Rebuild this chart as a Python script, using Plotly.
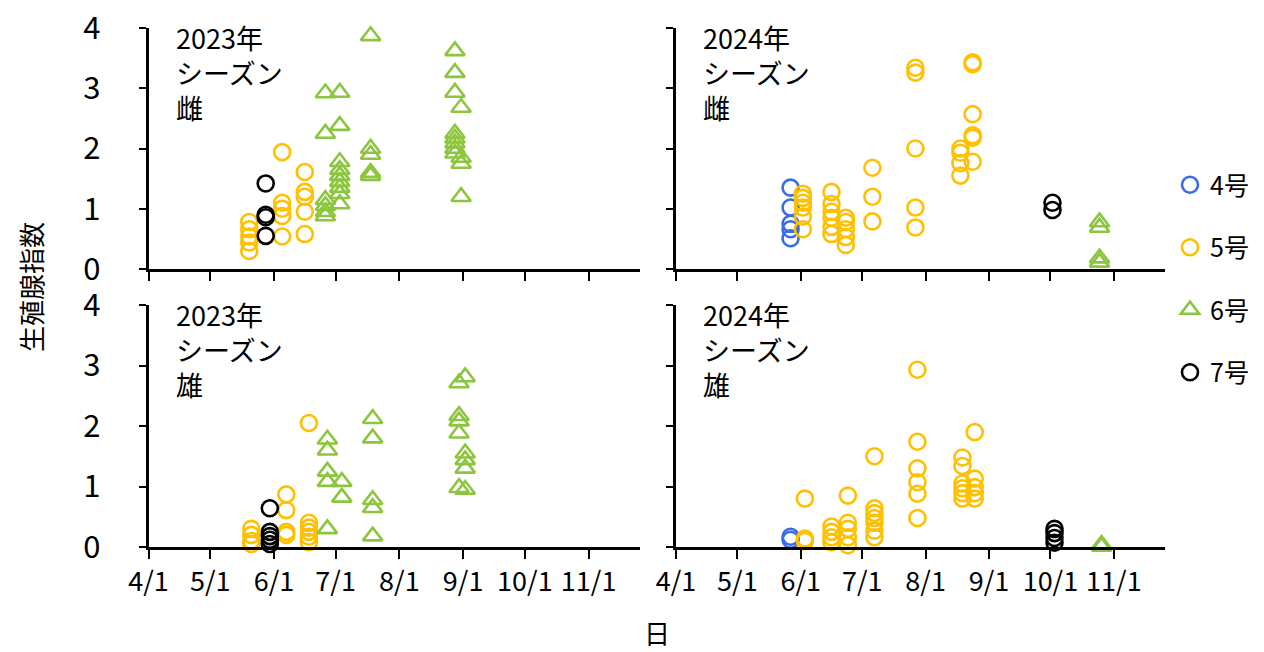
import plotly.graph_objects as go

FONT = "Noto Sans CJK JP"

# ---------------- data ----------------
SERIES = ["4号", "5号", "6号", "7号"]
SERIES_COLORS = ["#3A6BEA", "#FFC000", "#8CC63F", "#000000"]
SERIES_SYMBOLS = ["circle-open", "circle-open", "triangle-up-open", "circle-open"]

TICK_MONTHS = [4, 5, 6, 7, 8, 9, 10, 11]
TICK_LABELS = ["4/1", "5/1", "6/1", "7/1", "8/1", "9/1", "10/1", "11/1"]
Y_TICKS = [0, 1, 2, 3, 4]

# 2023 season, female
F23_NO5_DATES = ["2023-05-20", "2023-06-05", "2023-06-16"]
F23_NO5_VALUES = [[0.78, 0.66, 0.54, 0.44, 0.30],
                  [1.94, 1.10, 1.00, 0.88, 0.54],
                  [1.61, 1.28, 1.20, 0.95, 0.58]]
F23_NO6_DATES = ["2023-06-26", "2023-07-03", "2023-07-18", "2023-08-28", "2023-08-31"]
F23_NO6_VALUES = [[2.92, 2.25, 1.15, 1.05, 0.95, 0.88],
                  [2.93, 2.38, 1.78, 1.65, 1.55, 1.45, 1.35, 1.25, 1.08],
                  [3.87, 2.00, 1.90, 1.60, 1.55],
                  [3.62, 3.26, 2.93, 2.25, 2.17, 2.09, 2.00, 1.92],
                  [2.68, 1.85, 1.75, 1.20]]
F23_NO7_DATES = ["2023-05-28"]
F23_NO7_VALUES = [[1.42, 0.90, 0.86, 0.55]]

# 2023 season, male
M23_NO5_DATES = ["2023-05-21", "2023-06-07", "2023-06-18"]
M23_NO5_VALUES = [[0.30, 0.20, 0.10, 0.05],
                  [0.87, 0.61, 0.25, 0.20],
                  [2.05, 0.40, 0.32, 0.25, 0.17, 0.08]]
M23_NO6_DATES = ["2023-06-27", "2023-07-04", "2023-07-19", "2023-08-30", "2023-09-02"]
M23_NO6_VALUES = [[1.78, 1.60, 1.25, 1.08, 0.30],
                  [1.08, 0.82],
                  [2.12, 1.80, 0.78, 0.65, 0.18],
                  [2.71, 2.17, 2.08, 1.88, 0.98],
                  [2.81, 1.55, 1.44, 1.30, 0.95]]
M23_NO7_DATES = ["2023-05-30"]
M23_NO7_VALUES = [[0.64, 0.25, 0.18, 0.12, 0.05]]

# 2024 season, female
F24_NO4_DATES = ["2024-05-27"]
F24_NO4_VALUES = [[1.35, 1.02, 0.75, 0.66, 0.51]]
F24_NO5_DATES = ["2024-06-02", "2024-06-16", "2024-06-23", "2024-07-06",
                 "2024-07-27", "2024-08-18", "2024-08-24"]
F24_NO5_VALUES = [[1.25, 1.18, 1.10, 1.02, 0.87, 0.66],
                  [1.28, 1.08, 0.95, 0.85, 0.70, 0.58],
                  [0.85, 0.78, 0.66, 0.53, 0.40],
                  [1.68, 1.20, 0.79],
                  [3.34, 3.26, 2.00, 1.02, 0.69],
                  [2.00, 1.93, 1.76, 1.55],
                  [3.43, 3.40, 2.57, 2.22, 2.18, 1.78]]
F24_NO6_DATES = ["2024-10-25"]
F24_NO6_VALUES = [[0.78, 0.69, 0.18, 0.11]]
F24_NO7_DATES = ["2024-10-02"]
F24_NO7_VALUES = [[1.10, 0.98]]

# 2024 season, male
M24_NO4_DATES = ["2024-05-27"]
M24_NO4_VALUES = [[0.17, 0.12]]
M24_NO5_DATES = ["2024-06-03", "2024-06-16", "2024-06-24", "2024-07-07",
                 "2024-07-28", "2024-08-19", "2024-08-25"]
M24_NO5_VALUES = [[0.80, 0.14, 0.10],
                  [0.34, 0.25, 0.16, 0.08],
                  [0.85, 0.40, 0.30, 0.16, 0.03],
                  [1.50, 0.64, 0.56, 0.48, 0.40, 0.27, 0.16],
                  [2.93, 1.74, 1.30, 1.07, 0.88, 0.48],
                  [1.48, 1.34, 1.05, 0.97, 0.89, 0.80],
                  [1.90, 1.13, 0.99, 0.89, 0.80]]
M24_NO6_DATES = ["2024-10-26"]
M24_NO6_VALUES = [[0.04, 0.01]]
M24_NO7_DATES = ["2024-10-03"]
M24_NO7_VALUES = [[0.30, 0.23, 0.15, 0.07]]

PANELS = [
    # (year, label, axis suffix, is_left, is_bottom, {series: (dates, values)})
    (2023, "2023年<br>シーズン<br>雌", "", True, False,
     {"5号": (F23_NO5_DATES, F23_NO5_VALUES),
      "6号": (F23_NO6_DATES, F23_NO6_VALUES),
      "7号": (F23_NO7_DATES, F23_NO7_VALUES)}),
    (2024, "2024年<br>シーズン<br>雌", "2", False, False,
     {"4号": (F24_NO4_DATES, F24_NO4_VALUES),
      "5号": (F24_NO5_DATES, F24_NO5_VALUES),
      "6号": (F24_NO6_DATES, F24_NO6_VALUES),
      "7号": (F24_NO7_DATES, F24_NO7_VALUES)}),
    (2023, "2023年<br>シーズン<br>雄", "3", True, True,
     {"5号": (M23_NO5_DATES, M23_NO5_VALUES),
      "6号": (M23_NO6_DATES, M23_NO6_VALUES),
      "7号": (M23_NO7_DATES, M23_NO7_VALUES)}),
    (2024, "2024年<br>シーズン<br>雄", "4", False, True,
     {"4号": (M24_NO4_DATES, M24_NO4_VALUES),
      "5号": (M24_NO5_DATES, M24_NO5_VALUES),
      "6号": (M24_NO6_DATES, M24_NO6_VALUES),
      "7号": (M24_NO7_DATES, M24_NO7_VALUES)}),
]

# ---------------- layout geometry ----------------
# The page places the figure 8px from the window's top-left corner (body margin),
# so target screen positions are converted with OFF.
W, H = 1264, 652
OFF = 8


def px_x(p):
    return (p - OFF) / W


def px_y(p):
    return 1 - (p - OFF) / H


X_DOMAINS = {"": [px_x(148.5), px_x(640)], "2": [px_x(676), px_x(1165)],
             "3": [px_x(148.5), px_x(640)], "4": [px_x(676), px_x(1165)]}
TOP = [px_y(269), px_y(28)]
BOT = [px_y(547), px_y(305)]
Y_DOMAINS = {"": TOP, "2": TOP, "3": BOT, "4": BOT}

fig = go.Figure()
shown = set()
for year, label, sfx, is_left, is_bottom, data in PANELS:
    for i, name in enumerate(SERIES):
        if name not in data:
            continue
        dates, vals = data[name]
        xs, ys = [], []
        for d, vlist in zip(dates, vals):
            for v in vlist:
                xs.append(d)
                ys.append(v)
        is_tri = "triangle" in SERIES_SYMBOLS[i]
        fig.add_trace(go.Scatter(
            x=xs, y=ys, mode="markers", name=name, legendgroup=name,
            showlegend=name not in shown, legendrank=i,
            xaxis="x" + sfx, yaxis="y" + sfx, cliponaxis=False,
            marker=dict(symbol=SERIES_SYMBOLS[i], size=17 if is_tri else 16,
                        color=SERIES_COLORS[i],
                        line=dict(width=2.6, color=SERIES_COLORS[i])),
        ))
        shown.add(name)

layout = dict(
    template="none",
    width=W, height=H, margin=dict(l=0, r=0, t=0, b=0, autoexpand=False),
    paper_bgcolor="white", plot_bgcolor="white",
    font=dict(family=FONT, color="black"),
    showlegend=True,
    legend=dict(x=px_x(1170), y=px_y(162), xanchor="left", yanchor="top",
                font=dict(size=25, family=FONT), tracegroupgap=27,
                bgcolor="rgba(0,0,0,0)", borderwidth=0),
)

annotations = []
for year, label, sfx, is_left, is_bottom, data in PANELS:
    xd = X_DOMAINS[sfx]
    yd = Y_DOMAINS[sfx]
    layout["xaxis" + sfx] = dict(
        domain=xd, anchor="y" + sfx, type="date", automargin=False,
        range=[f"{year}-04-01", f"{year}-11-26"],
        tickvals=[f"{year}-{m:02d}-01" for m in TICK_MONTHS],
        ticktext=TICK_LABELS, showticklabels=is_bottom,
        ticklabeloverflow="allow",
        showline=True, linecolor="black", linewidth=2.5,
        ticks="outside", ticklen=9, tickwidth=2, tickcolor="black",
        showgrid=False, zeroline=False,
        tickfont=dict(size=27, family=FONT),
    )
    layout["yaxis" + sfx] = dict(
        domain=yd, anchor="x" + sfx, range=[0, 4], automargin=False,
        tickvals=Y_TICKS, ticktext=[str(t) for t in Y_TICKS],
        showticklabels=is_left, ticklabeloverflow="allow",
        showline=True, linecolor="black", linewidth=2.5,
        ticks="outside", ticklen=7, tickwidth=2, tickcolor="black",
        showgrid=False, zeroline=False,
        tickfont=dict(size=31, family=FONT),
        ticklabelstandoff=32,
    )
    annotations.append(dict(
        text=label, xref="paper", yref="paper",
        x=xd[0] + 25 / W, y=yd[1] + 12 / H, xanchor="left", yanchor="top",
        align="left", showarrow=False, font=dict(size=27, family=FONT),
    ))

annotations.append(dict(text="生殖腺指数", xref="paper", yref="paper",
                        x=px_x(30), y=px_y(287), xanchor="center", yanchor="middle",
                        textangle=-90, showarrow=False,
                        font=dict(size=26, family=FONT)))
annotations.append(dict(text="日", xref="paper", yref="paper",
                        x=px_x(657), y=px_y(632), xanchor="center", yanchor="middle",
                        showarrow=False, font=dict(size=26, family=FONT)))
layout["annotations"] = annotations

fig.update_layout(**layout)
fig.write_html("out.html")
